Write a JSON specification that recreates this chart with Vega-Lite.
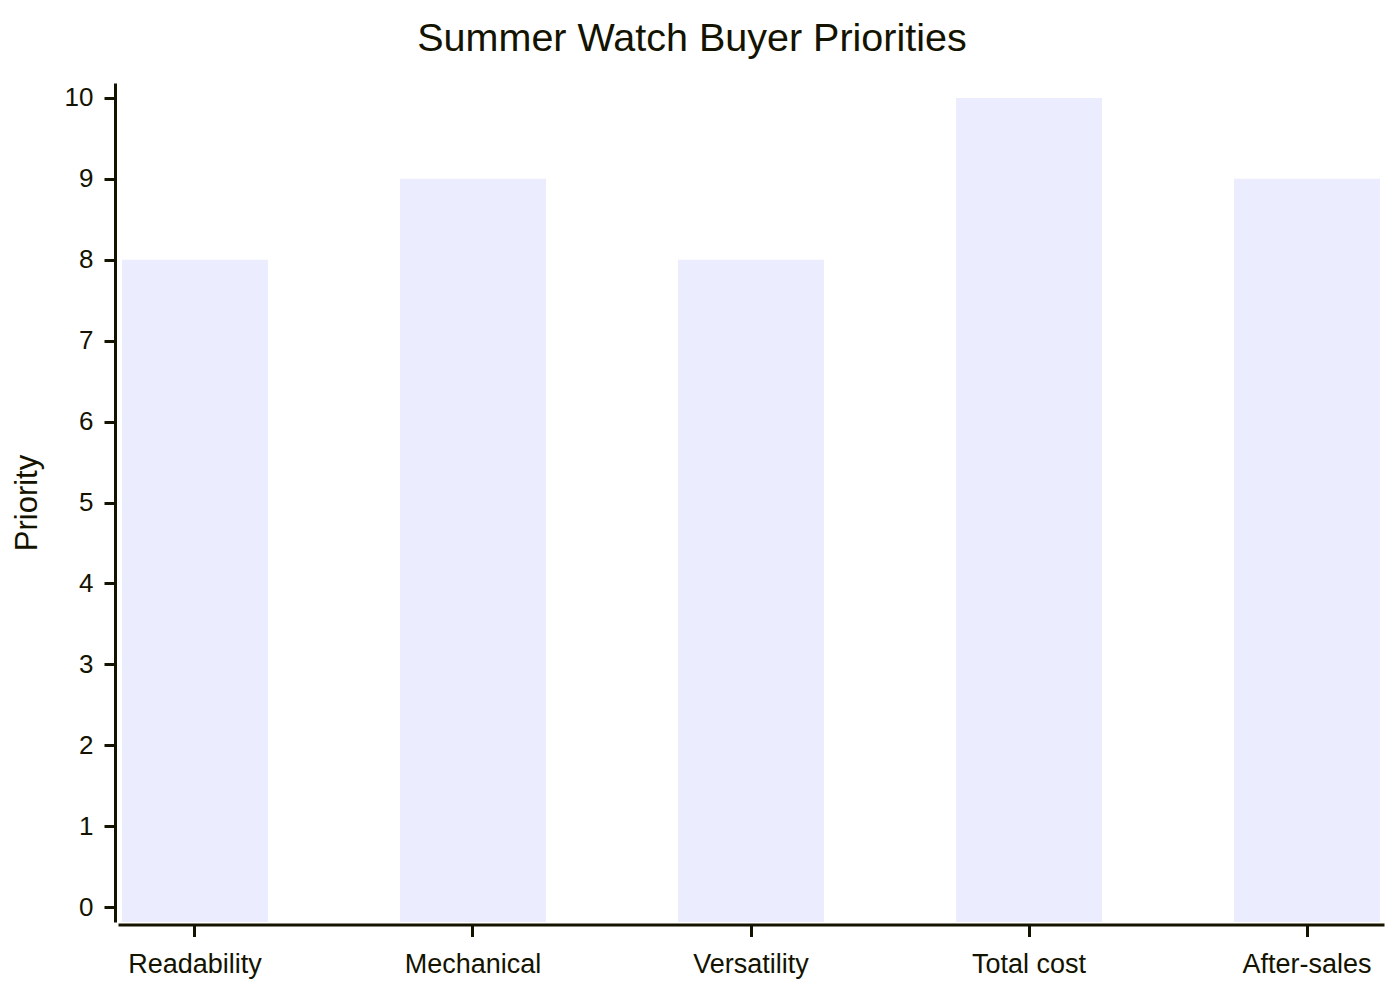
{
  "$schema": "https://vega.github.io/schema/vega-lite/v6.json",
  "description": "Summer watch buyer priorities, one bar per factor.",
  "autosize": "none",
  "width": 1266,
  "height": 839,
  "padding": {"left": 118, "top": 83, "right": 16, "bottom": 78},
  "background": "white",
  "title": {
    "text": "Summer Watch Buyer Priorities",
    "anchor": "middle",
    "frame": "group",
    "dx": -59,
    "dy": 38,
    "fontSize": 39.5,
    "fontWeight": "normal",
    "font": "Liberation Sans",
    "color": "#131300",
    "baseline": "alphabetic",
    "offset": 31
  },
  "data": {
    "values": [
      {"factor": "Readability", "priority": 8},
      {"factor": "Mechanical", "priority": 9},
      {"factor": "Versatility", "priority": 8},
      {"factor": "Total cost", "priority": 10},
      {"factor": "After-sales", "priority": 9}
    ]
  },
  "mark": {"type": "bar", "color": "#ECECFF"},
  "encoding": {
    "x": {
      "field": "factor",
      "type": "nominal",
      "sort": null,
      "scale": {"paddingInner": 0.475, "paddingOuter": 0.0144},
      "axis": {
        "title": null,
        "labelAngle": 0,
        "labelFontSize": 27,
        "labelPadding": 15,
        "tickSize": 12,
        "tickWidth": 3,
        "offset": 2.5
      }
    },
    "y": {
      "field": "priority",
      "type": "quantitative",
      "scale": {"domain": [-0.185, 10.185], "nice": false, "zero": false},
      "axis": {
        "title": "Priority",
        "values": [0, 1, 2, 3, 4, 5, 6, 7, 8, 9, 10],
        "labelFontSize": 26,
        "labelPadding": 11,
        "tickSize": 11,
        "tickWidth": 3,
        "offset": 3,
        "titleFontSize": 31,
        "titleAngle": 270,
        "titleAlign": "center",
        "titleBaseline": "bottom",
        "titleX": -72,
        "titleY": 419.5
      }
    },
    "y2": {"datum": -0.185}
  },
  "config": {
    "view": {"stroke": null},
    "font": "Liberation Sans",
    "axis": {
      "grid": false,
      "domainColor": "#131300",
      "domainWidth": 3,
      "tickColor": "#131300",
      "labelColor": "#131300",
      "titleColor": "#131300",
      "titleFontWeight": "normal",
      "labelFont": "Liberation Sans",
      "titleFont": "Liberation Sans"
    }
  }
}
